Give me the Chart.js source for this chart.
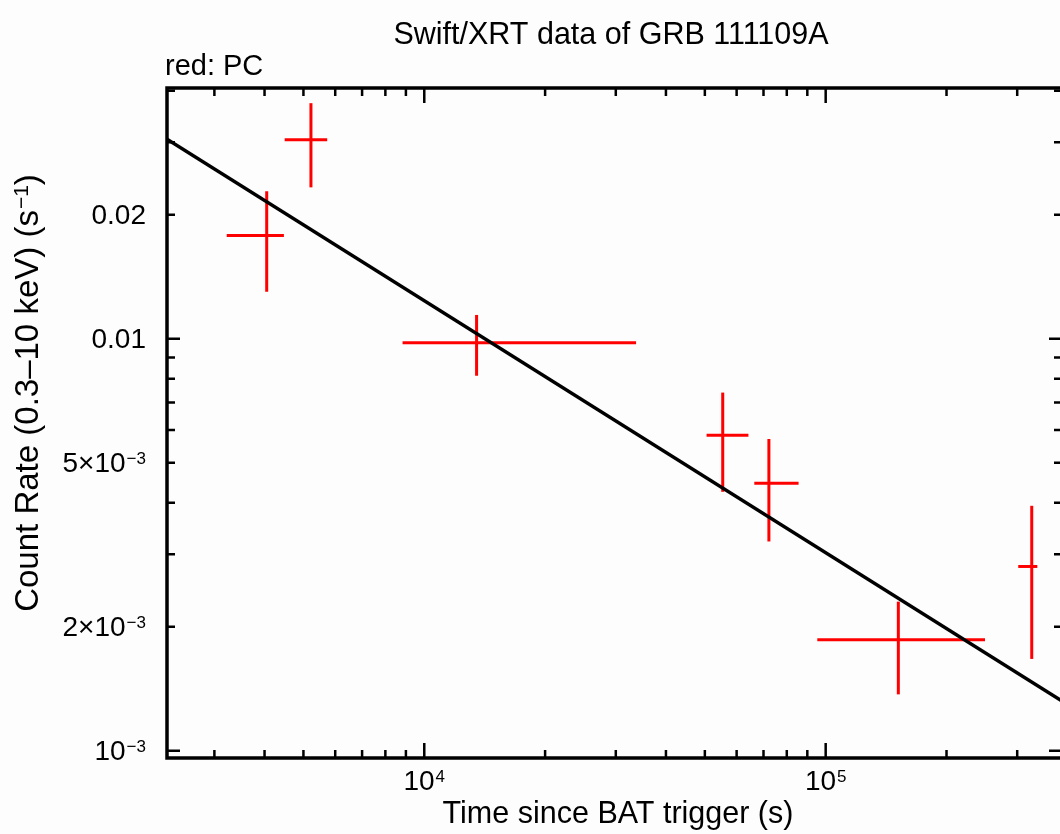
<!DOCTYPE html>
<html>
<head>
<meta charset="utf-8">
<script src="https://cdn.jsdelivr.net/npm/chart.js@4.4.0/dist/chart.umd.min.js"></script>
<style>
  html, body { margin: 0; padding: 0; background: #fdfdfd; overflow: hidden; }
  #wrap { width: 1060px; height: 834px; overflow: hidden; }
  canvas { display: block; }
</style>
</head>
<body>
<div id="wrap"><canvas id="chart" width="1080" height="834"></canvas></div>
<script>
// PC mode points: time since trigger (s) and count rate (1/s), with error ranges
const pcTime   = [4050, 5220, 13500, 55400, 72200, 151700, 326100];
const pcTimeLo = [3220, 4490, 8830, 50500, 66400, 95300, 301800];
const pcTimeHi = [4470, 5730, 33700, 64200, 85600, 249400, 336700];
const pcRate   = [0.0178, 0.0304, 0.00978, 0.00583, 0.00446, 0.00186, 0.00280];
const pcRateLo = [0.0130, 0.0233, 0.00813, 0.00425, 0.00322, 0.00137, 0.00167];
const pcRateHi = [0.0228, 0.0373, 0.01142, 0.00740, 0.00571, 0.00230, 0.00393];

// power-law fit, end points
const fitTime = [2286, 387900];
const fitRate = [0.0305, 0.00132];

// axes
const xRange = [2286, 387900];
const yRange = [0.00096, 0.0406];
const xTickValues = [1e4, 1e5];
const xTickLabels = ['10^4', '10^5'];
const yTickValues = [0.001, 0.002, 0.005, 0.01, 0.02];
const yTickLabels = ['10^\u22123', '2\u00d710^\u22123', '5\u00d710^\u22123', '0.01', '0.02'];

const FONT = "'Liberation Sans', Arial, sans-serif";

const datasets = [{
    data: fitTime.map((t, i) => ({ x: t, y: fitRate[i] })),
    borderColor: '#000000',
    borderWidth: 3.5,
    showLine: true,
    pointRadius: 0
}];
pcTime.forEach((t, i) => {
    const red = { borderColor: '#ff0000', borderWidth: 3, showLine: true, pointRadius: 0, borderCapStyle: 'butt' };
    datasets.push({ ...red, data: [{ x: pcTimeLo[i], y: pcRate[i] }, { x: pcTimeHi[i], y: pcRate[i] }] });
    datasets.push({ ...red, data: [{ x: t, y: pcRateLo[i] }, { x: t, y: pcRateHi[i] }] });
});

// draw "base^exp" with a raised, smaller exponent
function drawSup(ctx, label, x, y, align, size) {
    const [base, exp] = label.split('^');
    const small = Math.round(size * 0.62);
    ctx.font = size + 'px ' + FONT;
    const wb = ctx.measureText(base).width;
    ctx.font = small + 'px ' + FONT;
    const we = exp ? ctx.measureText(exp).width + 1 : 0;
    const w = wb + we;
    let x0 = x;
    if (align === 'center') x0 = x - w / 2;
    if (align === 'right') x0 = x - w;
    ctx.textAlign = 'left';
    ctx.textBaseline = 'alphabetic';
    ctx.font = size + 'px ' + FONT;
    ctx.fillText(base, x0, y);
    if (exp) {
        ctx.font = small + 'px ' + FONT;
        ctx.fillText(exp, x0 + wb + 1, y - size * 0.3);
    }
}

const frameAndLabels = {
    id: 'frameAndLabels',
    afterDraw(chart) {
        const { ctx, chartArea: a, scales: { x, y } } = chart;
        ctx.save();
        ctx.strokeStyle = '#000';
        ctx.fillStyle = '#000';
        ctx.lineWidth = 3.5;
        ctx.strokeRect(a.left, a.top, a.right - a.left, a.bottom - a.top);

        // minor and major tick marks, inward on all four sides
        ctx.lineWidth = 2.5;
        ctx.beginPath();
        for (let d = 3; d <= 5; d++) {
            for (let m = 1; m <= 9; m++) {
                const v = m * Math.pow(10, d);
                if (v <= x.min || v >= x.max) continue;
                const px = x.getPixelForValue(v);
                const len = m === 1 ? 15 : 8;
                ctx.moveTo(px, a.bottom); ctx.lineTo(px, a.bottom - len);
                ctx.moveTo(px, a.top); ctx.lineTo(px, a.top + len);
            }
        }
        for (let d = -4; d <= -1; d++) {
            for (let m = 1; m <= 9; m++) {
                const v = m * Math.pow(10, d);
                if (v <= y.min || v >= y.max) continue;
                const py = y.getPixelForValue(v);
                const len = m === 1 ? 13 : 8;
                ctx.moveTo(a.left, py); ctx.lineTo(a.left + len, py);
                ctx.moveTo(a.right, py); ctx.lineTo(a.right - len, py);
            }
        }
        ctx.stroke();

        // tick labels
        xTickValues.forEach((v, i) => {
            drawSup(ctx, xTickLabels[i], x.getPixelForValue(v), 790, 'center', 28);
        });
        yTickValues.forEach((v, i) => {
            drawSup(ctx, yTickLabels[i], 146, y.getPixelForValue(v) + 9.5, 'right', 28);
        });

        // titles
        ctx.font = '30.5px ' + FONT;
        ctx.textAlign = 'center';
        ctx.textBaseline = 'alphabetic';
        ctx.fillText('Swift/XRT data of GRB 111109A', 611, 44);
        ctx.fillText('Time since BAT trigger (s)', 618, 823);
        ctx.font = '29px ' + FONT;
        ctx.textAlign = 'left';
        ctx.fillText('red: PC', 165, 75);

        // y axis title, rotated
        ctx.save();
        ctx.translate(38, 393);
        ctx.rotate(-Math.PI / 2);
        const main = 'Count Rate (0.3\u201310 keV) (s';
        ctx.font = '33px ' + FONT;
        const wm = ctx.measureText(main).width;
        ctx.font = '21px ' + FONT;
        const we = ctx.measureText('\u22121').width + 1;
        ctx.font = '33px ' + FONT;
        const wc = ctx.measureText(')').width;
        const x0 = -(wm + we + wc) / 2;
        ctx.fillText(main, x0, 0);
        ctx.font = '21px ' + FONT;
        ctx.fillText('\u22121', x0 + wm + 1, -10);
        ctx.font = '33px ' + FONT;
        ctx.fillText(')', x0 + wm + we, 0);
        ctx.restore();

        ctx.restore();
    }
};

new Chart(document.getElementById('chart'), {
    type: 'scatter',
    data: { datasets: datasets },
    options: {
        responsive: false,
        animation: false,
        events: [],
        layout: { padding: { left: 167, top: 88, right: 18, bottom: 76 } },
        plugins: { legend: { display: false }, tooltip: { enabled: false } },
        scales: {
            x: { type: 'logarithmic', display: false, min: xRange[0], max: xRange[1], bounds: 'data' },
            y: { type: 'logarithmic', display: false, min: yRange[0], max: yRange[1], bounds: 'data' }
        }
    },
    plugins: [frameAndLabels]
});
</script>
</body>
</html>
